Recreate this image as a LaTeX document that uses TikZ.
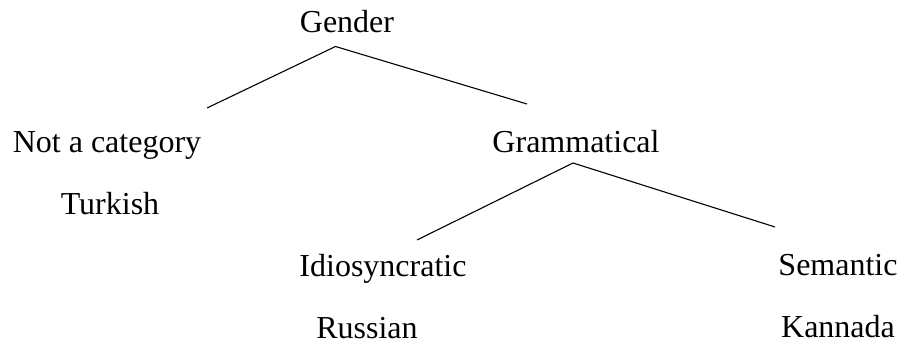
\documentclass[tikz,border=0pt]{standalone}
\usepackage{fontspec}
\setmainfont{Liberation Serif}

\begin{document}
\begin{tikzpicture}[x=1pt,y=-1pt,
  lbl/.style={anchor=base,inner sep=0pt,font=\fontsize{32}{38}\selectfont},
  branch/.style={line width=1.1pt}]
\useasboundingbox (0,0) rectangle (904,344);
% labels
\node[lbl] (gender) at (347,33) {Gender};
\node[lbl] (notcat) at (107,153) {Not a category};
\node[lbl] (turkish) at (110,215) {Turkish};
\node[lbl] (gramm) at (576,153) {Grammatical};
\node[lbl] (idio) at (383,277) {Idiosyncratic};
\node[lbl] (russian) at (367,338) {Russian};
\node[lbl] (sem) at (838,276) {Semantic};
\node[lbl] (kannada) at (838,337) {Kannada};
% branch ends
\coordinate (genderfoot) at (335.5,46.5);
\coordinate (notcathead) at (207,108);
\coordinate (grammhead) at (527,104);
\coordinate (grammfoot) at (573,163);
\coordinate (idiohead) at (417,240);
\coordinate (semhead) at (775,227);
\draw[branch] (notcathead) -- (genderfoot) -- (grammhead);
\draw[branch] (idiohead) -- (grammfoot) -- (semhead);
\end{tikzpicture}
\end{document}
